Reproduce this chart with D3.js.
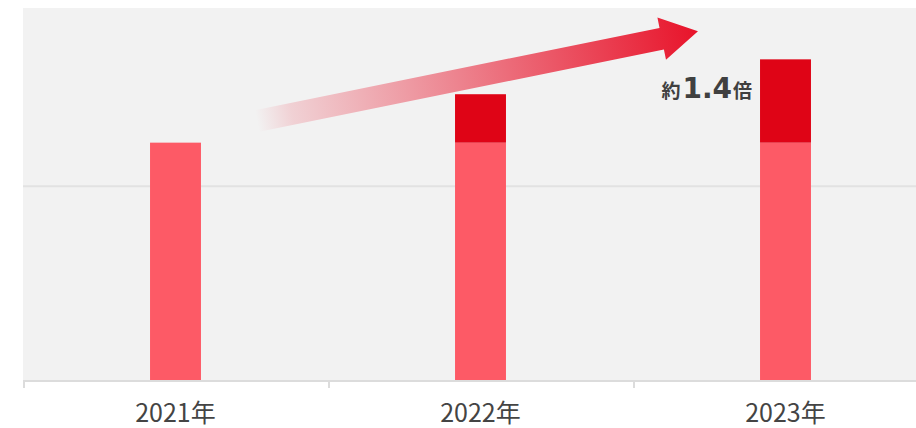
<!DOCTYPE html>
<html>
<head>
<meta charset="utf-8">
<script src="https://cdn.jsdelivr.net/npm/d3@7"></script>
<style>
  html, body { margin: 0; padding: 0; background: #fff; }
  svg { display: block; }
</style>
</head>
<body>
<svg class="chart" width="916" height="428"></svg>
<script>
// data
let years = ['2021年', '2022年', '2023年'];
let baseValues = [122.5, 122.5, 122.5];
let addValues = [0, 25, 43];
let gridValues = [100];
let yMax = 192;
let ratioLabel = ['約', '1.4', '倍'];

let margin = {left: 23, top: 8, bottom: 48};
let width = 916, height = 428;
let plotRight = 938; // plot runs off the right edge

let svg = d3.select('svg.chart');

let x = d3.scaleBand()
  .domain(years)
  .range([margin.left, plotRight])
  .paddingInner(0.833)
  .paddingOuter(0.4165);

let y = d3.scaleLinear()
  .domain([0, yMax])
  .range([height - margin.bottom, margin.top]);

let step = x.step();

// plot background
svg.append('rect')
  .attr('x', margin.left)
  .attr('y', y(yMax))
  .attr('width', plotRight - margin.left)
  .attr('height', y(0) - y(yMax))
  .style('fill', '#f2f2f2');

// gridlines
svg.selectAll('line.grid')
  .data(gridValues)
  .enter()
  .append('line')
  .attr('class', 'grid')
  .attr('x1', margin.left)
  .attr('x2', plotRight)
  .attr('y1', d => y(d))
  .attr('y2', d => y(d))
  .style('stroke', '#e2e2e2')
  .style('stroke-width', '2px');

// base bars
svg.selectAll('rect.base')
  .data(years)
  .enter()
  .append('rect')
  .attr('class', 'base')
  .attr('x', d => x(d))
  .attr('width', x.bandwidth())
  .attr('y', (d, i) => y(baseValues[i]))
  .attr('height', (d, i) => y(0) - y(baseValues[i]))
  .style('fill', '#fd5a66');

// added part
svg.selectAll('rect.add')
  .data(years.filter((d, i) => addValues[i] > 0))
  .enter()
  .append('rect')
  .attr('class', 'add')
  .attr('x', d => x(d))
  .attr('width', x.bandwidth())
  .attr('y', d => {
    let i = years.indexOf(d);
    return y(baseValues[i] + addValues[i]);
  })
  .attr('height', d => {
    let i = years.indexOf(d);
    return y(baseValues[i]) - y(baseValues[i] + addValues[i]);
  })
  .style('fill', '#df0416');

// x axis line + ticks at band edges
svg.append('line')
  .attr('x1', margin.left)
  .attr('x2', plotRight)
  .attr('y1', y(0) + 1)
  .attr('y2', y(0) + 1)
  .style('stroke', '#dcdcdc')
  .style('stroke-width', '2px');

svg.selectAll('line.tick')
  .data(d3.range(years.length + 1))
  .enter()
  .append('line')
  .attr('class', 'tick')
  .attr('x1', i => margin.left + i * step + 1)
  .attr('x2', i => margin.left + i * step + 1)
  .attr('y1', y(0))
  .attr('y2', y(0) + 8)
  .style('stroke', '#dcdcdc')
  .style('stroke-width', '2px');

svg.selectAll('text.year')
  .data(years)
  .enter()
  .append('text')
  .attr('class', 'year')
  .attr('x', d => x(d) + x.bandwidth() / 2)
  .attr('y', 422)
  .attr('text-anchor', 'middle')
  .style('font-family', '"Noto Sans CJK JP", sans-serif')
  .style('font-size', '25px')
  .style('fill', '#444')
  .text(d => d);

// arrow
let defs = svg.append('defs');
let grad = defs.append('linearGradient')
  .attr('id', 'arrowGrad')
  .attr('gradientUnits', 'userSpaceOnUse')
  .attr('x1', 0).attr('y1', 0)
  .attr('x2', 450).attr('y2', 0);
grad.append('stop').attr('offset', 0).attr('stop-color', '#e8132a').attr('stop-opacity', 0);
grad.append('stop').attr('offset', 0.08).attr('stop-color', '#e8132a').attr('stop-opacity', 0.15);
grad.append('stop').attr('offset', 1).attr('stop-color', '#e8132a').attr('stop-opacity', 1);

let arrowLen = 450, headLen = 37, shaftHalf = 11, headHalf = 21.5;
let arrowPath = d3.path();
arrowPath.moveTo(0, -shaftHalf);
arrowPath.lineTo(arrowLen - headLen, -shaftHalf);
arrowPath.lineTo(arrowLen - headLen, -headHalf);
arrowPath.lineTo(arrowLen, 0);
arrowPath.lineTo(arrowLen - headLen, headHalf);
arrowPath.lineTo(arrowLen - headLen, shaftHalf);
arrowPath.lineTo(0, shaftHalf);
arrowPath.closePath();

svg.append('path')
  .attr('d', arrowPath.toString())
  .attr('transform', 'translate(257,121) rotate(-11.5)')
  .style('fill', 'url(#arrowGrad)');

// ratio label
let lbl = svg.append('text')
  .attr('x', x(years[2]) - 8)
  .attr('y', 98)
  .attr('text-anchor', 'end')
  .style('font-weight', 'bold')
  .style('fill', '#404040');

lbl.append('tspan')
  .style('font-family', '"Noto Sans CJK JP", sans-serif')
  .style('font-size', '19px')
  .text(ratioLabel[0]);
lbl.append('tspan')
  .attr('dx', 2)
  .style('font-family', '"DejaVu Sans", sans-serif')
  .style('font-size', '28px')
  .text(ratioLabel[1]);
lbl.append('tspan')
  .attr('dx', 1)
  .style('font-family', '"Noto Sans CJK JP", sans-serif')
  .style('font-size', '19px')
  .text(ratioLabel[2]);
</script>
</body>
</html>
